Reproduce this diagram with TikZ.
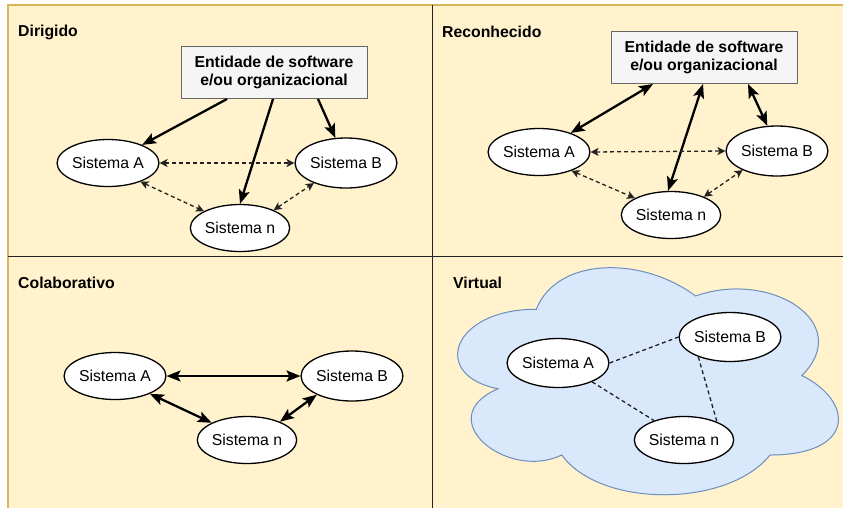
\documentclass[tikz,border=0pt]{standalone}
\usepackage{fontspec}
\setmainfont{Liberation Sans}
\usetikzlibrary{arrows.meta,shapes.geometric}
\definecolor{bgfill}{HTML}{FFF2CC}
\definecolor{bgline}{HTML}{D6B656}
\definecolor{boxfill}{HTML}{F5F5F5}
\definecolor{boxline}{HTML}{666666}
\definecolor{cloudfill}{HTML}{DAE8FC}
\definecolor{cloudline}{HTML}{6C8EBF}
\definecolor{divline}{HTML}{222222}
\definecolor{dashcol}{HTML}{222222}
\begin{document}
\begin{tikzpicture}[x=1pt,y=-1pt,
 sys/.style={ellipse, draw=black, line width=1.3pt, fill=white, minimum width=94pt, minimum height=47pt, inner sep=0pt, font=\fontsize{15.8}{18}\selectfont},
 ent/.style={rectangle, draw=boxline, line width=1pt, fill=boxfill, minimum width=186pt, minimum height=52pt, align=center, inner sep=0pt, font=\bfseries\fontsize{15.8}{18}\selectfont},
 ttl/.style={anchor=west, inner sep=0pt, font=\bfseries\fontsize{15.8}{18}\selectfont},
 solidarr/.style={line width=2.3pt, -{Stealth[length=14pt,width=11pt,inset=3pt]}},
 solidboth/.style={line width=2.3pt, {Stealth[length=14pt,width=11pt,inset=3pt]}-{Stealth[length=14pt,width=11pt,inset=3pt]}},
 dashboth/.style={dashcol, line width=1.3pt, dash pattern=on 4pt off 3pt, {Stealth[length=8pt,width=8pt,inset=2pt]}-{Stealth[length=8pt,width=8pt,inset=2pt]}},
 dashline/.style={dashcol, line width=1.3pt, dash pattern=on 4pt off 3pt},
]
\useasboundingbox (0,0) rectangle (843,507);
\begin{scope}
\clip (0,0) rectangle (843,507);
\draw[fill=bgfill, draw=bgline, line width=1.5pt] (8,5) rectangle (880,540);
\draw[divline, line width=1.8pt] (432.5,5) -- (432.5,520);
\draw[divline, line width=1.8pt] (8,256.5) -- (860,256.5);
\end{scope}

% ---------- Panel 1: Dirigido ----------
\node[ttl] (t1) at (18,32) {Dirigido};
\node[ent] (E1) at (274,72.5) {Entidade de software\\e/ou organizacional};
\node[sys] (A1) at (108,163) {Sistema A};
\node[sys, minimum height=50pt] (B1) at (346,163) {Sistema B};
\node[sys] (n1) at (240,228) {Sistema n};
\draw[solidarr] ([xshift=-47pt]E1.south) -- (A1.28);
\draw[solidarr] ([xshift=-1pt]E1.south) -- (n1.north);
\draw[solidarr] ([xshift=44pt]E1.south) -- (B1.113);
\draw[dashboth] (A1.east) -- (B1.west);
\draw[dashboth] (A1.-30) -- (n1.155);
\draw[dashboth] (n1.28) -- (B1.212);

% ---------- Panel 2: Reconhecido ----------
\node[ttl] (t2) at (442,32) {Reconhecido};
\node[ent] (E2) at (704,57.5) {Entidade de software\\e/ou organizacional};
\node[sys] (A2) at (539,152) {Sistema A};
\node[sys, minimum height=50pt] (B2) at (777,151) {Sistema B};
\node[sys] (n2) at (671,215) {Sistema n};
\draw[solidboth] ([xshift=-51pt]E2.south) -- (A2.31);
\draw[solidboth] ([xshift=-1pt]E2.south) -- (n2.97);
\draw[solidboth] ([xshift=44pt]E2.south) -- (B2.111);
\draw[dashboth] (A2.east) -- (B2.west);
\draw[dashboth] (A2.-30) -- (n2.155);
\draw[dashboth] (n2.29) -- (B2.209);

% ---------- Panel 3: Colaborativo ----------
\node[ttl] (t3) at (18,283) {Colaborativo};
\node[sys] (A3) at (115,376) {Sistema A};
\node[sys, minimum height=50pt] (B3) at (352,376) {Sistema B};
\node[sys] (n3) at (247,440) {Sistema n};
\draw[solidboth] (A3.east) -- (B3.west);
\draw[solidboth] (A3.-27) -- (n3.154);
\draw[solidboth] (n3.29) -- (B3.208);

% ---------- Panel 4: Virtual ----------
\draw[fill=cloudfill, draw=cloudline, line width=1pt]
  (536.25,309.25)
  .. controls (451.25,309.25) and (430,375.5) .. (498,388.75)
  .. controls (430,417.9) and (506.5,481.5) .. (561.75,455)
  .. controls (600,508) and (727.5,508) .. (770,455)
  .. controls (855,455) and (855,402) .. (801.9,375.5)
  .. controls (855,322.5) and (770,269.5) .. (695.6,296)
  .. controls (642.5,256.25) and (557.5,256.25) .. (536.25,309.25)
  -- cycle;
\node[ttl] (t4) at (453,283) {Virtual};
\node[sys, minimum height=49pt] (A4) at (558,363) {Sistema A};
\node[sys, minimum height=49pt] (B4) at (730,337) {Sistema B};
\node[sys] (n4) at (684,440) {Sistema n};
\draw[dashline] (A4.east) -- (B4.west);
\draw[dashline] (A4.-29) -- (n4.147);
\draw[dashline] (B4.-148) -- (n4.29);
\end{tikzpicture}
\end{document}
